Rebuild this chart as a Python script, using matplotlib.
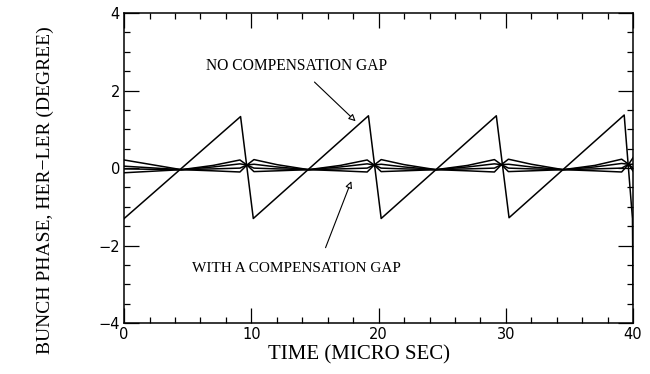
import numpy as np
import matplotlib
matplotlib.use('Agg')
import matplotlib.pyplot as plt
from matplotlib.ticker import MultipleLocator

# sawtooth: no compensation gap
saw_t = [0, 9.15, 10.15, 19.2, 20.2, 29.25, 30.25, 39.3, 39.95, 40.0]
saw_y = [-1.3, 1.33, -1.3, 1.35, -1.3, 1.35, -1.28, 1.37, -1.3, -3.5]

# with a compensation gap (four bunches)
gap_t = [0, 4.5, 7.0, 9.1, 9.65, 10.2, 12.0, 14.5, 17.0, 19.1, 19.65, 20.2,
         22.0, 24.5, 27.0, 29.1, 29.65, 30.2, 32.0, 34.5, 37.0, 39.1, 39.65, 40.0]
gap_1 = [0.21, -0.04, 0.07, 0.21, 0.08, 0.22, 0.09, -0.04, 0.07, 0.21, 0.08, 0.22,
         0.09, -0.04, 0.07, 0.22, 0.09, 0.23, 0.10, -0.04, 0.07, 0.23, 0.10, 0.27]
gap_2 = [0.05, -0.04, 0.03, 0.11, 0.08, 0.10, 0.03, -0.04, 0.03, 0.11, 0.08, 0.10,
         0.03, -0.04, 0.03, 0.11, 0.09, 0.10, 0.03, -0.04, 0.03, 0.12, 0.10, 0.10]
gap_3 = [-0.02, -0.04, -0.02, 0.0, 0.08, 0.0, -0.02, -0.04, -0.02, 0.0, 0.08, 0.0,
         -0.02, -0.04, -0.02, 0.0, 0.09, 0.0, -0.02, -0.04, -0.02, 0.0, 0.10, 0.0]
gap_4 = [-0.12, -0.04, -0.07, -0.10, 0.08, -0.09, -0.07, -0.04, -0.07, -0.10, 0.08, -0.09,
         -0.07, -0.04, -0.07, -0.10, 0.09, -0.09, -0.07, -0.04, -0.07, -0.10, 0.10, -0.08]

serif = 'Liberation Serif'

fig = plt.figure(figsize=(6.5, 3.74), dpi=100)
ax = fig.add_axes([0.191, 0.136, 0.783, 0.829])

ax.plot(saw_t, saw_y, color='black', lw=1.1)
for g in (gap_1, gap_2, gap_3, gap_4):
    ax.plot(gap_t, g, color='black', lw=1.1)

ax.set_xlim(0, 40)
ax.set_ylim(-4, 4)
ax.xaxis.set_major_locator(MultipleLocator(10))
ax.xaxis.set_minor_locator(MultipleLocator(2))
ax.yaxis.set_major_locator(MultipleLocator(2))
ax.yaxis.set_minor_locator(MultipleLocator(0.5))
ax.tick_params(which='both', direction='in', top=True, right=True, width=0.9)
ax.tick_params(which='major', length=11)
ax.tick_params(which='minor', length=4)
ax.tick_params(axis='both', labelsize=10.5, pad=3)
for s in ax.spines.values():
    s.set_linewidth(1.1)

ax.set_xlabel('TIME (MICRO SEC)', family=serif, fontsize=15)
ax.set_ylabel('BUNCH PHASE, HER\u2212LER (DEGREE)', family=serif, fontsize=14)
ax.xaxis.set_label_coords(0.462, -0.07)
ax.yaxis.set_label_coords(-0.137, 0.43)

arrow = dict(arrowstyle='-|>', fc='white', ec='black', lw=0.8, mutation_scale=10)
ax.annotate('', xy=(18.35, 1.16), xytext=(14.8, 2.27), arrowprops=arrow)
ax.annotate('', xy=(17.93, -0.27), xytext=(15.75, -2.12), arrowprops=arrow)
ax.text(6.4, 2.63, 'NO COMPENSATION GAP', family=serif, fontsize=11.2, va='center', ha='left')
ax.text(5.35, -2.58, 'WITH A COMPENSATION GAP', family=serif, fontsize=11, va='center', ha='left')

fig.savefig('out.png', dpi=100)
